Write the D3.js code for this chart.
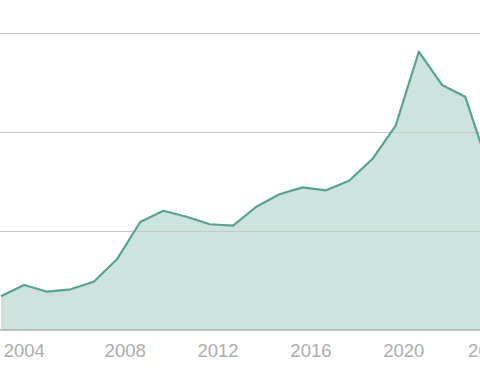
<!DOCTYPE html>
<html>
<head>
<meta charset="utf-8">
<script src="https://cdn.jsdelivr.net/npm/d3@7"></script>
<style>
  html, body { margin: 0; padding: 0; background: #fff; }
  svg { display: block; }
</style>
</head>
<body>
<svg id="chart" width="480" height="384"></svg>
<script>
// Fiscal years and values (units: one gridline step)
const years = [2003, 2004, 2005, 2006, 2007, 2008, 2009, 2010, 2011, 2012, 2013,
               2014, 2015, 2016, 2017, 2018, 2019, 2020, 2021, 2022, 2023, 2024];
const values = [0.34, 0.455, 0.387, 0.411, 0.488, 0.714, 1.091, 1.205, 1.144, 1.068, 1.054,
                1.245, 1.371, 1.441, 1.411, 1.508, 1.727, 2.061, 2.811, 2.475, 2.357, 1.65];
const tickYears = [2004, 2008, 2012, 2016, 2020, 2024];
const gridValues = [1, 2, 3];

const data = years.map((y, i) => ({ date: new Date(y - 1, 8, 1), value: values[i] }));

const svg = d3.select("#chart");

const x = d3.scaleTime()
  .domain([new Date(2008, 0, 1), new Date(2020, 0, 1)])
  .range([124.7, 403.3]);
const y = d3.scaleLinear().domain([0, 3]).range([330, 33]);

const area = d3.area()
  .x(d => x(d.date))
  .y0(y(0))
  .y1(d => y(d.value));
const line = d3.line()
  .x(d => x(d.date))
  .y(d => y(d.value));

svg.append("path")
  .datum(data)
  .attr("d", area)
  .attr("fill", "#cce3de");

// gridlines
svg.append("g")
  .selectAll("line")
  .data(gridValues)
  .join("line")
  .attr("x1", 0).attr("x2", 480)
  .attr("y1", d => y(d)).attr("y2", d => y(d))
  .attr("stroke", "#c8c8c8")
  .attr("stroke-width", 1)
  .attr("shape-rendering", "crispEdges");

svg.append("path")
  .datum(data)
  .attr("d", line)
  .attr("fill", "none")
  .attr("stroke", "#55a390")
  .attr("stroke-width", 2.2)
  .attr("stroke-linejoin", "round");

// baseline axis
const xAxis = d3.axisBottom(x)
  .tickValues(tickYears.map(t => new Date(t, 0, 1)))
  .tickFormat(d3.timeFormat("%Y"))
  .tickSize(0)
  .tickPadding(14);

const gx = svg.append("g")
  .attr("transform", `translate(0,${y(0)})`)
  .call(xAxis);
gx.select(".domain").remove();
gx.append("line")
  .attr("x1", 0).attr("x2", 480)
  .attr("stroke", "#a9aeac")
  .attr("stroke-width", 1.5);
gx.selectAll("text")
  .attr("fill", "#adadad")
  .attr("font-family", "'Liberation Sans', Arial, sans-serif")
  .attr("font-size", 18.5)
  .attr("dx", (d, i, n) => i === 0 ? -8 : (i === n.length - 1 ? -8 : 0));
</script>
</body>
</html>
